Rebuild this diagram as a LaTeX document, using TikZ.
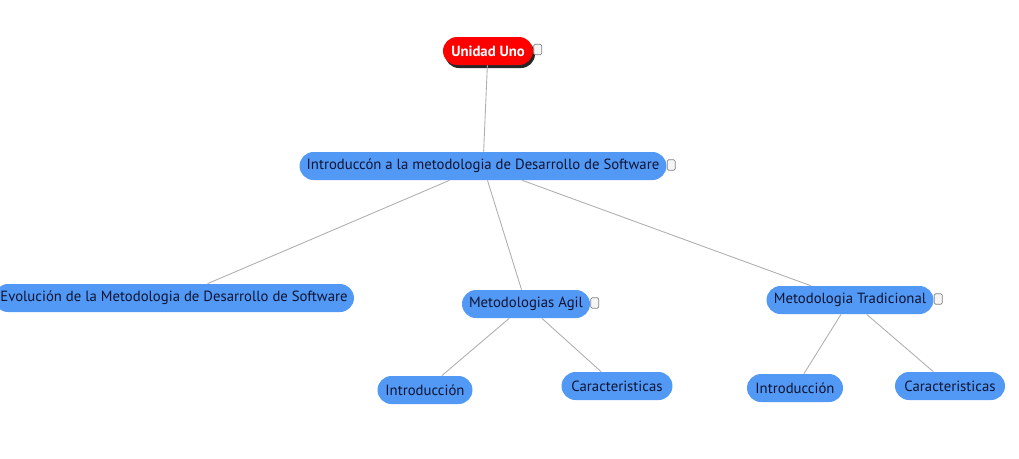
\documentclass[tikz,border=0pt]{standalone}
\usepackage{fontspec}
\setmainfont{PT Sans}
\usetikzlibrary{shadows}

\definecolor{mapblue}{RGB}{82,153,246}
\definecolor{maptext}{RGB}{15,20,50}
\definecolor{mapline}{RGB}{175,175,175}

\begin{document}
\begin{tikzpicture}[
    x=0.02cm, y=-0.02cm,
    font=\fontsize{8.4}{10}\selectfont,
    topic/.style={fill=mapblue, text=maptext, rounded corners=0.28cm, minimum height=0.56cm, inner xsep=3pt, inner ysep=0pt},
    root/.style={topic, fill=red, text=white, font=\fontsize{8.4}{10}\selectfont\bfseries,
        drop shadow={shadow xshift=0.04cm, shadow yshift=-0.06cm, fill=black, opacity=0.85}},
    expander/.style={draw=gray, fill=gray!8, rounded corners=0.8pt, minimum width=0.16cm, minimum height=0.21cm, inner sep=0pt},
    edge/.style={draw=mapline, line width=0.5pt}
]
    \useasboundingbox (0,0) rectangle (1019,458);

    % Root
    \node[root, minimum width=1.8cm] (uno) at (488,51) {Unidad Uno};

    % First level
    \node[topic, minimum width=7.34cm] (intro) at (483,166) {Introduccón a la metodologia de Desarrollo de Software};

    % Second level
    \node[topic, minimum width=7.2cm] (evol) at (174,298) {Evolución de la Metodologia de Desarrollo de Software};
    \node[topic, minimum width=2.56cm] (agil) at (526,304) {Metodologias Agil};
    \node[topic, minimum width=3.34cm] (trad) at (850,300) {Metodologia Tradicional};

    % Third level
    \node[topic, minimum width=1.9cm] (agilint) at (425,390) {Introducción};
    \node[topic, minimum width=2.22cm] (agilcar) at (617,386) {Caracteristicas};
    \node[topic, minimum width=1.92cm] (tradint) at (795,388) {Introducción};
    \node[topic, minimum width=2.2cm] (tradcar) at (950,386) {Caracteristicas};

    % Expanders
    \node[expander, anchor=west] (unoexp) at ([yshift=0.03cm]uno.east) {};
    \node[expander, anchor=west] (introexp) at ([yshift=0.02cm]intro.east) {};
    \node[expander, anchor=west] (agilexp) at ([yshift=0.02cm]agil.east) {};
    \node[expander, anchor=west] (tradexp) at ([yshift=0.02cm]trad.east) {};

    % Connections
    \draw[edge] (uno) -- (intro);
    \draw[edge] (intro) -- (evol);
    \draw[edge] (intro) -- (agil);
    \draw[edge] (intro) -- (trad);
    \draw[edge] (agil) -- (agilint);
    \draw[edge] (agil) -- (agilcar);
    \draw[edge] (trad) -- (tradint);
    \draw[edge] (trad) -- (tradcar);

\end{tikzpicture}
\end{document}
